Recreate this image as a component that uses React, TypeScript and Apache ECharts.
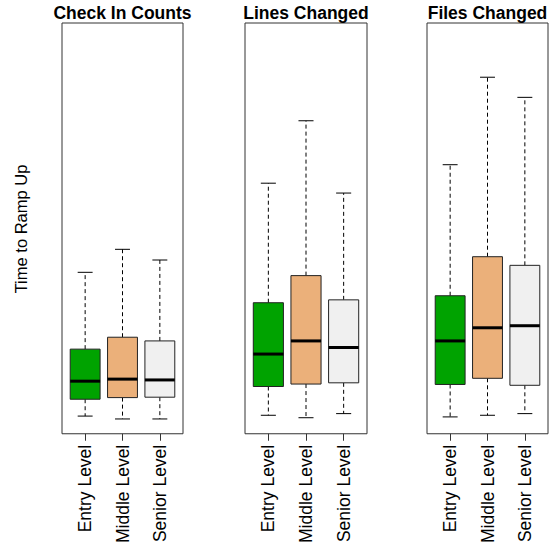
import React, { useEffect, useRef } from "react";
import * as echarts from "echarts";

// ---- data (arbitrary time units; ylim 0..100) ----
const levels = ["Entry Level", "Middle Level", "Senior Level"];
const panelTitles = ["Check In Counts", "Lines Changed", "Files Changed"];
const yAxisTitle = "Time to Ramp Up";

// each row: [lower whisker, Q1, median, Q3, upper whisker]
const checkInCounts = [
  [4.3, 8.4, 12.8, 20.6, 39.3],
  [3.6, 8.8, 13.3, 23.5, 44.9],
  [3.6, 8.9, 13.1, 22.6, 42.3],
];
const linesChanged = [
  [4.5, 11.5, 19.4, 31.9, 61.0],
  [3.9, 12.1, 22.6, 38.5, 76.2],
  [4.9, 12.4, 21.0, 32.6, 58.6],
];
const filesChanged = [
  [4.1, 12.0, 22.6, 33.6, 65.5],
  [4.5, 13.5, 25.8, 43.1, 86.8],
  [4.9, 11.8, 26.3, 41.0, 81.9],
];

const panels = [checkInCounts, linesChanged, filesChanged];
const boxColors = ["#00A300", "#EBB07A", "#F0F0F0"];

const FONT = "'Liberation Sans', Arial, Helvetica, sans-serif";
const grids = [
  { left: 62, width: 121 },
  { left: 245, width: 122 },
  { left: 427, width: 121 },
];

export default function App() {
  const ref = useRef<HTMLDivElement>(null);

  useEffect(() => {
    if (!ref.current) return;
    const chart = echarts.init(ref.current, undefined, { renderer: "svg" });

    const renderItem = (params: any, api: any) => {
      const x = api.value(0);
      const low = api.coord([x, api.value(1)]);
      const q1 = api.coord([x, api.value(2)]);
      const med = api.coord([x, api.value(3)]);
      const q3 = api.coord([x, api.value(4)]);
      const high = api.coord([x, api.value(5)]);
      const w = api.size([0.8, 0])[0];
      const cx = low[0];
      const half = w / 2;
      const capHalf = w / 4;
      const color = boxColors[params.dataIndex];
      const stroke = "#000";
      return {
        type: "group",
        children: [
          {
            type: "line",
            shape: { x1: cx, y1: q3[1], x2: cx, y2: high[1] },
            style: { stroke, lineWidth: 1, lineDash: [4, 3] },
          },
          {
            type: "line",
            shape: { x1: cx, y1: q1[1], x2: cx, y2: low[1] },
            style: { stroke, lineWidth: 1, lineDash: [4, 3] },
          },
          {
            type: "line",
            shape: { x1: cx - capHalf, y1: high[1], x2: cx + capHalf, y2: high[1] },
            style: { stroke, lineWidth: 1 },
          },
          {
            type: "line",
            shape: { x1: cx - capHalf, y1: low[1], x2: cx + capHalf, y2: low[1] },
            style: { stroke, lineWidth: 1 },
          },
          {
            type: "rect",
            shape: { x: cx - half, y: q3[1], width: w, height: q1[1] - q3[1] },
            style: { fill: color, stroke: "#222", lineWidth: 1 },
          },
          {
            type: "line",
            shape: { x1: cx - half, y1: med[1], x2: cx + half, y2: med[1] },
            style: { stroke: "#000", lineWidth: 3 },
          },
        ],
      };
    };

    const option: any = {
      animation: false,
      backgroundColor: "#fff",
      textStyle: { fontFamily: FONT },
      graphic: [
        {
          type: "text",
          x: 21,
          y: 229,
          rotation: Math.PI / 2,
          style: {
            text: yAxisTitle,
            fill: "#000",
            font: `16.5px ${FONT}`,
            align: "center",
            verticalAlign: "middle",
          },
        },
        ...panelTitles.map((t, i) => ({
          type: "text",
          x: grids[i].left + grids[i].width / 2,
          y: 12.5,
          style: {
            text: t,
            fill: "#000",
            font: `bold 17.5px ${FONT}`,
            align: "center",
            verticalAlign: "middle",
          },
        })),
      ],
      grid: grids.map((g) => ({
        left: g.left,
        width: g.width,
        top: 23,
        height: 415,
        show: true,
        borderColor: "#333",
        borderWidth: 1,
        backgroundColor: "transparent",
      })),
      xAxis: grids.map((_, i) => ({
        type: "value",
        gridIndex: i,
        min: 0.38,
        max: 3.62,
        splitLine: { show: false },
        axisLine: { show: false },
        axisTick: {
          show: true,
          length: 7,
          customValues: [1, 2, 3],
          lineStyle: { color: "#333" },
        },
        axisLabel: {
          show: true,
          rotate: 90,
          fontSize: 17.5,
          color: "#000",
          margin: 11,
          fontFamily: FONT,
          customValues: [1, 2, 3],
          formatter: (v: number) => levels[Math.round(v) - 1] ?? "",
        },
      })),
      yAxis: grids.map((_, i) => ({
        type: "value",
        gridIndex: i,
        min: 0,
        max: 100,
        axisLine: { show: false },
        axisTick: { show: false },
        axisLabel: { show: false },
        splitLine: { show: false },
      })),
      series: panels.map((stats, i) => ({
        type: "custom",
        xAxisIndex: i,
        yAxisIndex: i,
        renderItem,
        encode: { x: 0, y: [1, 2, 3, 4, 5] },
        data: stats.map((s, k) => [k + 1, ...s]),
      })),
    };

    chart.setOption(option);
    return () => chart.dispose();
  }, []);

  return (
    <div
      ref={ref}
      style={{ position: "fixed", left: 0, top: 0, width: 555, height: 546 }}
    />
  );
}
